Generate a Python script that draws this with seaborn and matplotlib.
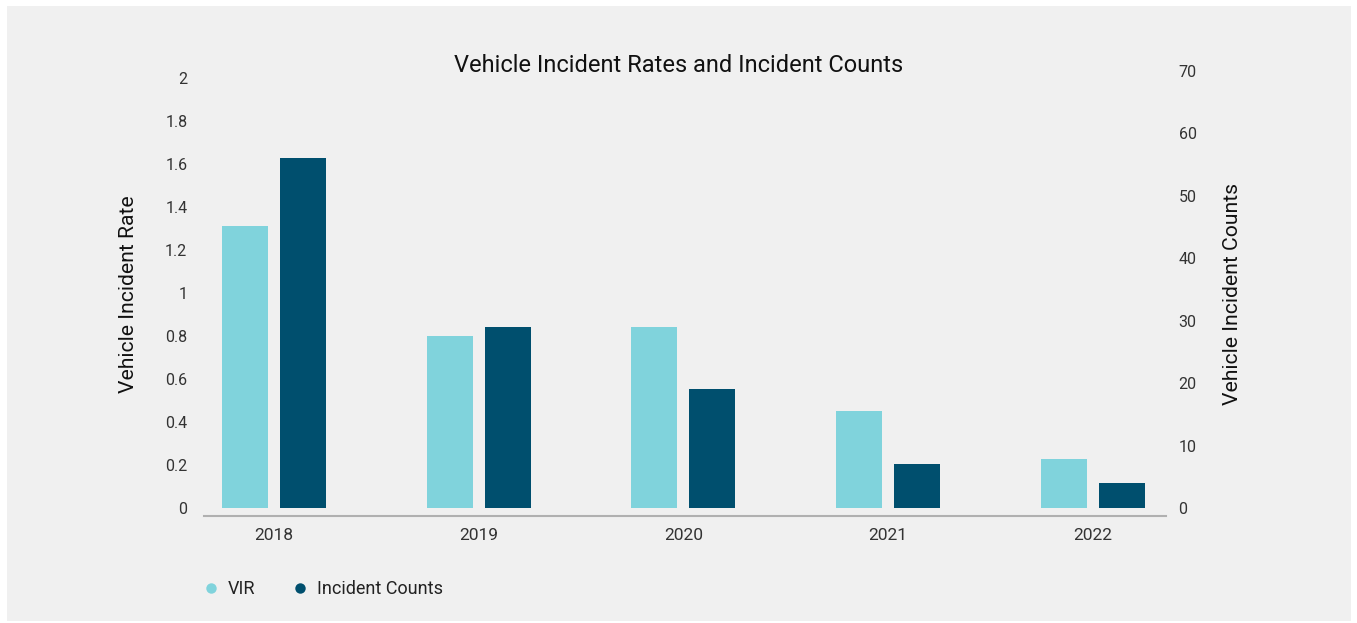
import matplotlib
matplotlib.use("Agg")
import matplotlib.pyplot as plt
import seaborn as sns
import pandas as pd
from matplotlib.lines import Line2D
from matplotlib.patches import Rectangle

# ---- data ----
years = ["2018", "2019", "2020", "2021", "2022"]
vir = [1.31, 0.80, 0.84, 0.45, 0.23]
incident_counts = [56, 29, 19, 7, 4]
series = ["VIR", "Incident Counts"]
left_ticks = [0, 0.2, 0.4, 0.6, 0.8, 1.0, 1.2, 1.4, 1.6, 1.8, 2.0]
left_tick_labels = ["0", "0.2", "0.4", "0.6", "0.8", "1", "1.2", "1.4", "1.6", "1.8", "2"]
right_ticks = [0, 10, 20, 30, 40, 50, 60, 70]
right_tick_labels = ["0", "10", "20", "30", "40", "50", "60", "70"]
title = "Vehicle Incident Rates and Incident Counts"
left_label = "Vehicle Incident Rate"
right_label = "Vehicle Incident Counts"

colors = {"VIR": "#80d3dc", "Incident Counts": "#004f6e"}

sns.set_theme(style="white")
plt.rcParams["font.family"] = ["Roboto", "DejaVu Sans"]

W, H = 1357, 623
fig = plt.figure(figsize=(W / 100, H / 100), dpi=100, facecolor="white")
fig.patches.append(Rectangle((7 / W, 2 / H), (1351 - 7) / W, (621 - 6) / H,
                             transform=fig.transFigure, facecolor="#f0f0f0",
                             edgecolor="none", zorder=-10))

ax_left, ax_right, ax_bottom, ax_top = 204, 1166, 516, 71
ax = fig.add_axes([ax_left / W, (H - ax_bottom) / H,
                   (ax_right - ax_left) / W, (ax_bottom - ax_top) / H])
ax.patch.set_alpha(0)
ax2 = ax.twinx()
ax2.patch.set_alpha(0)

df_vir = pd.DataFrame({"year": years, "value": vir, "series": "VIR"})
df_cnt = pd.DataFrame({"year": years, "value": incident_counts, "series": "Incident Counts"})

common = dict(x="year", y="value", hue="series", hue_order=series, palette=colors,
              width=0.5666, gap=0.207, dodge=True, legend=False, saturation=1,
              errorbar=None, linewidth=0)
sns.barplot(data=df_vir, ax=ax, **common)
sns.barplot(data=df_cnt, ax=ax2, **common)

ax.set_xlim(-0.342, 4.357)
ax.set_ylim(-0.0372, 2.0326)
ax2.set_ylim(-1.281, 70)

tick_color = "#333333"
ax.set_yticks(left_ticks, left_tick_labels)
ax2.set_yticks(right_ticks, right_tick_labels)
ax.tick_params(axis="y", length=0, pad=12, labelsize=11.5, labelcolor=tick_color)
ax2.tick_params(axis="y", length=0, pad=9, labelsize=11.5, labelcolor=tick_color)
ax.tick_params(axis="x", length=0, pad=9, labelsize=12.5, labelcolor=tick_color)
ax.set_xlabel("")
ax.set_ylabel("")
ax2.set_ylabel("")

for a in (ax, ax2):
    for s in ("left", "right", "top", "bottom"):
        a.spines[s].set_visible(False)
ax.spines["bottom"].set_visible(True)
ax.spines["bottom"].set_color("#b0b0b0")
ax.spines["bottom"].set_linewidth(1.5)
ax.grid(False)
ax2.grid(False)

fig.text(679 / W, (H - 65) / H, title, ha="center", va="center",
         fontsize=17, color="#111111")
fig.text(128 / W, (H - 294) / H, left_label, rotation=90, ha="center", va="center",
         fontsize=15.2, color="#111111")
fig.text(1232 / W, (H - 294) / H, right_label, rotation=90, ha="center", va="center",
         fontsize=15.2, color="#111111")

handles = [Line2D([0], [0], marker="o", linestyle="none", markersize=7.5,
                  markerfacecolor=colors[s], markeredgewidth=0) for s in series]
fig.legend(handles, series, loc="center left",
           bbox_to_anchor=(202 / W, (H - 589) / H), ncol=2, frameon=False,
           borderaxespad=0, borderpad=0, handlelength=1.0, handletextpad=0.44,
           columnspacing=1.94, prop={"size": 13}, labelcolor="#222222")

fig.savefig("out.png", dpi=100, facecolor=fig.get_facecolor())
